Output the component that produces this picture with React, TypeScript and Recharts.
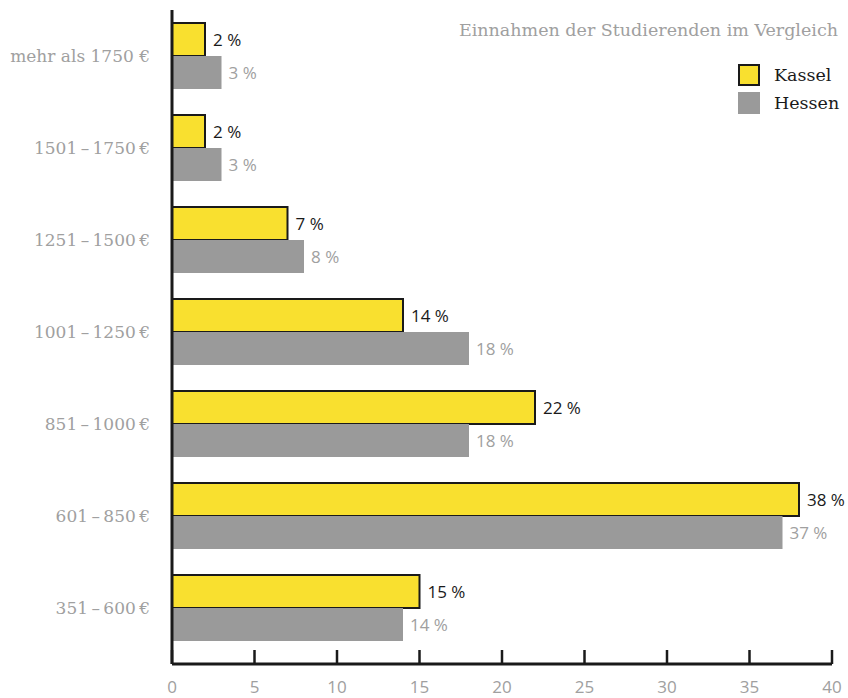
import React from 'react';
import { BarChart, Bar, XAxis, YAxis, LabelList } from 'recharts';

const categories = ['mehr als 1750 €', '1501\u2009–\u20091750\u2009€', '1251\u2009–\u20091500\u2009€', '1001\u2009–\u20091250\u2009€', '851\u2009–\u20091000\u2009€', '601\u2009–\u2009850\u2009€', '351\u2009–\u2009600\u2009€'];
const kassel = [2, 2, 7, 14, 22, 38, 15];
const hessen = [3, 3, 8, 18, 18, 37, 14];
const xTicks = [0, 5, 10, 15, 20, 25, 30, 35, 40];
const title = 'Einnahmen der Studierenden im Vergleich';
const seriesNames = ['Kassel', 'Hessen'];

const YELLOW = '#f9e02f';
const GRAY = '#9a9a9a';
const DARK = '#1a1a1a';
const LABEL_GRAY = '#a0a0a0';
const SERIF = '"DejaVu Serif", serif';
const SANS = '"Open Sans", sans-serif';

const data = categories.map((cat, i) => ({ cat, kassel: kassel[i], hessen: hessen[i] }));

const XTick = (props: any) => {
  const { x, y, payload } = props;
  return (
    <g>
      <line x1={x} x2={x} y1={y} y2={y - 14} stroke={DARK} strokeWidth={2.5} />
      <text x={x} y={y + 29} textAnchor="middle" fill={LABEL_GRAY} fontFamily={SANS} fontSize={17}>
        {payload.value}
      </text>
    </g>
  );
};

const pct = (v: any) => `${v} %`;

export default function App() {
  return (
    <div style={{ position: 'absolute', left: 0, top: 0, width: 848, height: 698, background: '#fff' }}>
      <BarChart
        width={848}
        height={698}
        data={data}
        layout="vertical"
        margin={{ top: 10, right: 16, bottom: 0, left: 0 }}
        barGap={0}
        barSize={33}
      >
        <XAxis
          type="number"
          domain={[0, 40]}
          ticks={xTicks}
          height={34}
          axisLine={{ stroke: DARK, strokeWidth: 3 }}
          tickLine={false}
          tickSize={0}
          tickMargin={0}
          tick={<XTick />}
          interval={0}
        />
        <YAxis
          type="category"
          dataKey="cat"
          width={172}
          padding={{ top: 0, bottom: 10 }}
          axisLine={{ stroke: DARK, strokeWidth: 3 }}
          tickLine={false}
          tickSize={0}
          tickMargin={22}
          tick={{ fill: LABEL_GRAY, fontFamily: SERIF, fontSize: 17 }}
          interval={0}
        />
        <Bar dataKey="kassel" name={seriesNames[0]} fill={YELLOW} stroke={DARK} strokeWidth={2} isAnimationActive={false}>
          <LabelList dataKey="kassel" position="right" offset={8} formatter={pct} fill={DARK} fontFamily={SANS} fontSize={17} />
        </Bar>
        <Bar dataKey="hessen" name={seriesNames[1]} fill={GRAY} isAnimationActive={false}>
          <LabelList dataKey="hessen" position="right" offset={7} formatter={pct} fill={LABEL_GRAY} fontFamily={SANS} fontSize={17} />
        </Bar>
      </BarChart>
      <div style={{ position: 'absolute', right: 10, top: 19, fontFamily: SERIF, fontSize: 17.5, color: LABEL_GRAY, whiteSpace: 'nowrap', lineHeight: '22px' }}>
        {title}
      </div>
      {seriesNames.map((name, i) => (
        <div key={name} style={{ position: 'absolute', left: 738, top: 64 + i * 28, display: 'flex', alignItems: 'center', height: 22 }}>
          <div style={{ width: 22, height: 22, boxSizing: 'border-box', background: i === 0 ? YELLOW : GRAY, border: i === 0 ? `2px solid ${DARK}` : 'none' }} />
          <span style={{ marginLeft: 14, fontFamily: SERIF, fontSize: 17.5, color: DARK, lineHeight: '22px' }}>{name}</span>
        </div>
      ))}
    </div>
  );
}
